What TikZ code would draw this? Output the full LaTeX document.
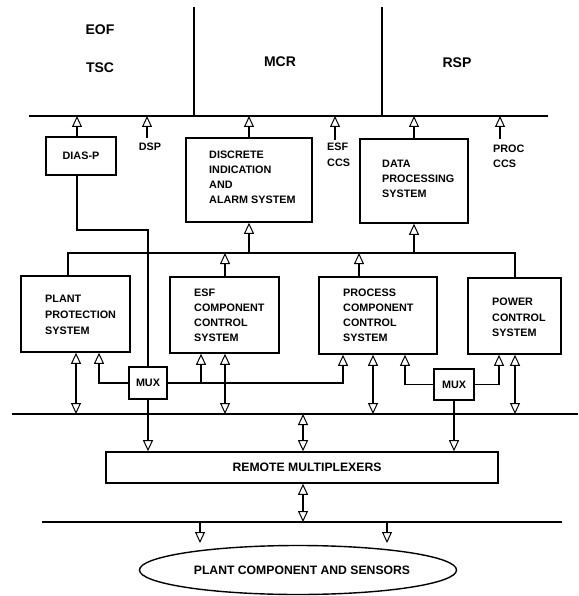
\documentclass[tikz,border=0pt]{standalone}
\usepackage{fontspec}
\setmainfont{Liberation Sans}
\usetikzlibrary{arrows.meta,shapes.geometric}
\begin{document}
\begin{tikzpicture}[x=1pt,y=-1pt,
  bus/.style={line width=2.8pt},
  divider/.style={line width=2.2pt},
  box/.style={draw, line width=1.6pt, inner sep=0pt},
  conn/.style={line width=1.5pt},
  uarr/.style={conn, -{Triangle[open, length=11pt, width=10pt, line width=1pt]}},
  barr/.style={conn, {Triangle[open, length=11pt, width=10pt, line width=1pt]}-{Triangle[open, length=11pt, width=10pt, line width=1pt]}},
  txt/.style={font=\bfseries\fontsize{10.8pt}{15pt}\selectfont, inner sep=0pt, align=left},
  big/.style={font=\bfseries\fontsize{14pt}{16pt}\selectfont, inner sep=0pt},
  wide/.style={font=\bfseries\fontsize{12.2pt}{14pt}\selectfont}
]
\useasboundingbox (0,0) rectangle (578,596);

% bus levels
\coordinate (tbw) at (29,116);  \coordinate (tbe) at (548,116);
\coordinate (b2w) at (68,253);  \coordinate (b2e) at (515,253);
\coordinate (b3w) at (12,414);  \coordinate (b3e) at (578,414);
\coordinate (b4w) at (42,522);  \coordinate (b4e) at (562,522);
\coordinate (mcrt) at (194,7);  \coordinate (rspt) at (382,7);

% connector x positions
\coordinate (xdias) at (77,0);
\coordinate (dspc) at (147,138);
\coordinate (esfc) at (335,140);
\coordinate (procc) at (500,139);
\coordinate (xesf) at (225,0);
\coordinate (xpccs) at (359,0);
\coordinate (xm1) at (99,0);
\coordinate (xm2) at (201,0);
\coordinate (xm3) at (343,0);
\coordinate (xm4) at (405,0);
\coordinate (xm5) at (499,0);
\coordinate (xb1) at (76,0);
\coordinate (xb3) at (373,0);
\coordinate (xb4) at (515,0);
\coordinate (xr) at (303,0);
\coordinate (dl) at (148,230);
\coordinate (p1) at (200,543);
\coordinate (p2) at (387,543);

% top area
\draw[bus] (tbw) -- (tbe);
\draw[divider] (mcrt) -- (mcrt |- tbw);
\draw[divider] (rspt) -- (rspt |- tbw);
\node[big] (eof) at (100,30) {EOF};
\node[big] (tsc) at (100,68) {TSC};
\node[big] (mcr) at (280,62) {MCR};
\node[big] (rsp) at (457,63) {RSP};

% boxes
\node[box, txt, minimum width=70pt, minimum height=38pt] (diasp) at (81,156) {DIAS-P};
\node[box, minimum width=126pt, minimum height=84pt] (disc) at (249,180) {};
\node[box, minimum width=108pt, minimum height=84pt] (data) at (414,181) {};
\node[box, minimum width=109pt, minimum height=76pt] (pps) at (75.5,314) {};
\node[box, minimum width=109pt, minimum height=76pt] (esf) at (224.5,315) {};
\node[box, minimum width=118pt, minimum height=77pt] (pccs) at (378,315.5) {};
\node[box, minimum width=93pt, minimum height=76pt] (pcs) at (514.5,316) {};
\node[box, txt, minimum width=38pt, minimum height=32pt] (mux1) at (148,383) {MUX};
\node[box, txt, minimum width=40pt, minimum height=31pt] (mux2) at (454,384.5) {MUX};
\node[box, wide, minimum width=392pt, minimum height=31pt] (rm) at (302,467.5) {\hspace{10pt}REMOTE MULTIPLEXERS};
\node[draw, ellipse, line width=1.4pt, inner sep=0pt, minimum width=290pt, minimum height=49pt, wide] (plant) at (298,570) {\hspace{8pt}PLANT COMPONENT AND SENSORS};

% box texts
\node[txt, anchor=north west] (disct) at (209,151) {DISCRETE\\INDICATION\\AND\\ALARM SYSTEM};
\node[txt, anchor=north west] (datat) at (382,160) {DATA\\PROCESSING\\SYSTEM};
\node[txt, anchor=north west, font=\bfseries\fontsize{10.8pt}{16pt}\selectfont] (ppst) at (45,295) {PLANT\\PROTECTION\\SYSTEM};
\node[txt, anchor=north west] (esft) at (194,289) {ESF\\COMPONENT\\CONTROL\\SYSTEM};
\node[txt, anchor=north west] (pccst) at (343,289) {PROCESS\\COMPONENT\\CONTROL\\SYSTEM};
\node[txt, anchor=north west, font=\bfseries\fontsize{10.8pt}{15.5pt}\selectfont] (pcst) at (492,298) {POWER\\CONTROL\\SYSTEM};

% top bus arrows
\draw[uarr] (xdias |- diasp.north) -- (xdias |- tbw);
\draw[uarr] (dspc) -- (dspc |- tbw);
\node[txt, anchor=north] (dspt) at (150,143) {DSP};
\draw[uarr] (disc.north) -- (disc.north |- tbw);
\draw[uarr] (esfc) -- (esfc |- tbw);
\node[txt, anchor=north west, font=\bfseries\fontsize{10.8pt}{16pt}\selectfont] (esfct) at (327,143) {ESF\\CCS};
\draw[uarr] (data.north) -- (data.north |- tbw);
\draw[uarr] (procc) -- (procc |- tbw);
\node[txt, anchor=north west] (procct) at (493,145) {PROC\\CCS};

% interconnection bus
\draw[conn] (b2w |- pps.north) -- (b2w) -- (b2e) -- (b2e |- pcs.north);
\draw[uarr] (disc.south |- b2w) -- (disc.south);
\draw[uarr] (data.south |- b2w) -- (data.south);
\draw[uarr] (xesf |- esf.north) -- (xesf |- b2w);
\draw[uarr] (xpccs |- pccs.north) -- (xpccs |- b2w);

% DIAS-P to MUX
\draw[conn] (xdias |- diasp.south) |- (dl) -- (mux1.north);

% MUX outputs
\draw[uarr] (mux1.west) -| (xm1 |- pps.south);
\draw[uarr] (mux1.east) -| (xm3 |- pccs.south);
\draw[uarr] (xm2 |- mux1.east) -- (xm2 |- esf.south);
\draw[uarr] (mux2.west) -| (xm4 |- pccs.south);
\draw[uarr] (mux2.east) -| (xm5 |- pcs.south);

% field bus
\draw[bus] (b3w) -- (b3e);
\draw[barr] (xb1 |- pps.south) -- (xb1 |- b3w);
\draw[barr] (xesf |- esf.south) -- (xesf |- b3w);
\draw[barr] (xb3 |- pccs.south) -- (xb3 |- b3w);
\draw[barr] (xb4 |- pcs.south) -- (xb4 |- b3w);
\draw[uarr] (mux1.south) -- (mux1.south |- rm.north);
\draw[uarr] (mux2.south) -- (mux2.south |- rm.north);
\draw[barr] (xr |- b3w) -- (xr |- rm.north);

% plant bus
\draw[bus] (b4w) -- (b4e);
\draw[barr] (xr |- rm.south) -- (xr |- b4w);
\draw[uarr] (p1 |- b4w) -- (p1);
\draw[uarr] (p2 |- b4w) -- (p2);
\end{tikzpicture}
\end{document}
